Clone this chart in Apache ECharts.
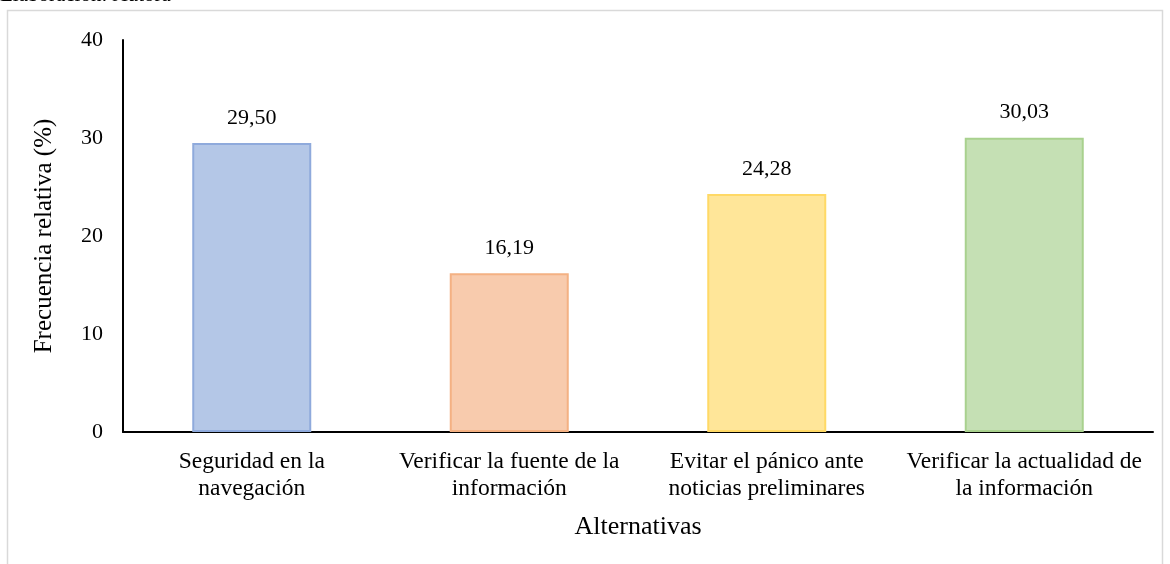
<!DOCTYPE html>
<html>
<head>
<meta charset="utf-8">
<script src="https://cdn.jsdelivr.net/npm/echarts@6/dist/echarts.min.js"></script>
<style>
  html, body { margin: 0; padding: 0; background: #fff; }
  #chart { width: 1170px; height: 564px; }
</style>
</head>
<body>
<div id="chart"></div>
<script>
// categories and values
const categories = [
  'Seguridad en la\nnavegación',
  'Verificar la fuente de la\ninformación',
  'Evitar el pánico ante\nnoticias preliminares',
  'Verificar la actualidad de\nla información'
];
const values = [29.50, 16.19, 24.28, 30.03];
const fills = ['#b4c7e7', '#f8cbad', '#ffe699', '#c5e0b4'];
const borders = ['#8faadc', '#f4b183', '#ffd966', '#a9d18e'];
const yTicks = [0, 10, 20, 30, 40];

const font = '"Liberation Serif", "Times New Roman", serif';

const chart = echarts.init(document.getElementById('chart'), null, { renderer: 'canvas' });

chart.setOption({
  animation: false,
  textStyle: { fontFamily: font, color: '#000' },
  graphic: [
    {
      type: 'rect',
      shape: { x: 7.5, y: 10.5, width: 1155, height: 580 },
      style: { fill: 'none', stroke: '#d9d9d9', lineWidth: 1.5 },
      silent: true
    },
    {
      type: 'text',
      x: 0,
      y: -15,
      style: { text: 'Elaboración: Autora', font: '21px ' + font, fill: '#000' },
      silent: true
    }
  ],
  grid: { left: 123, right: 17, top: 40, bottom: 132 },
  xAxis: {
    type: 'category',
    data: categories,
    name: 'Alternativas',
    nameLocation: 'middle',
    nameGap: 82,
    nameTextStyle: { fontSize: 26, fontFamily: font, color: '#000' },
    axisLine: { lineStyle: { color: '#000', width: 2 } },
    axisTick: { show: false },
    axisLabel: {
      interval: 0,
      fontSize: 23.5,
      lineHeight: 27,
      margin: 16,
      color: '#000',
      fontFamily: font
    }
  },
  yAxis: {
    type: 'value',
    min: 0,
    max: yTicks[yTicks.length - 1],
    interval: 10,
    name: 'Frecuencia relativa (%)',
    nameLocation: 'middle',
    nameGap: 66,
    nameTextStyle: { fontSize: 25, fontFamily: font, color: '#000' },
    axisLine: { show: true, lineStyle: { color: '#000', width: 2 } },
    axisTick: { show: false },
    splitLine: { show: false },
    axisLabel: { fontSize: 22, margin: 20, color: '#000', fontFamily: font }
  },
  series: [{
    type: 'bar',
    barWidth: 119,
    data: values.map((v, i) => ({
      value: v,
      itemStyle: { color: fills[i], borderColor: borders[i], borderWidth: 2 }
    })),
    label: {
      show: true,
      position: 'top',
      distance: 14,
      fontSize: 22,
      color: '#000',
      fontFamily: font,
      formatter: p => p.value.toFixed(2).replace('.', ',')
    }
  }]
});
</script>
</body>
</html>
